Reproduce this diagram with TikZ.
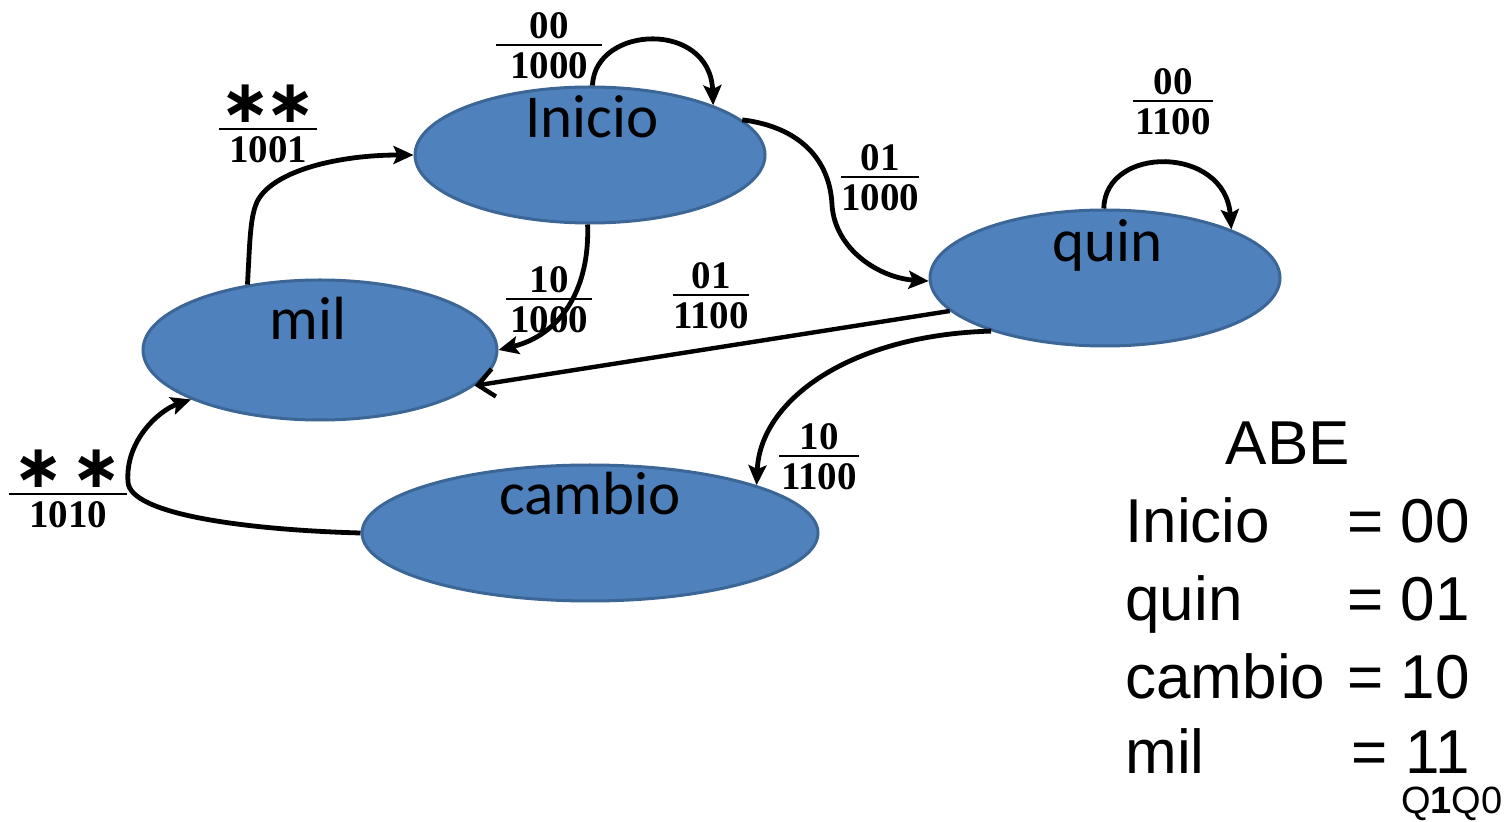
\documentclass[tikz,border=0pt]{standalone}
\usepackage{fontspec}
\setmainfont{Liberation Serif}
\newfontfamily\statefont{Carlito}
\newfontfamily\legfont{Liberation Sans}
\newfontfamily\symfont{DejaVu Sans}
\usetikzlibrary{shapes.geometric,arrows.meta}
\definecolor{stfill}{HTML}{4F81BD}
\definecolor{stdraw}{HTML}{3B6696}
\newcommand{\fr}[3][0pt]{\vbox{\offinterlineskip\halign{\hfil##\hfil\cr #2\cr\noalign{\kern2.5pt\hrule height 1pt\kern3.5pt}\hskip#1\relax #3\hskip#1\relax\cr}}}
\newcommand{\astr}[1][0pt]{{\symfont\bfseries\fontsize{30}{30}\selectfont ∗\hskip#1∗}}
\begin{document}
\begin{tikzpicture}[x=0.5pt,y=-0.5pt,
 state/.style={ellipse, fill=stfill, draw=stdraw, line width=1.5pt, inner sep=0pt},
 stext/.style={font=\statefont\fontsize{30.5}{30.5}\selectfont, anchor=base, inner sep=0pt},
 lab/.style={font=\bfseries\fontsize{19.5}{19.5}\selectfont, inner sep=0pt},
 tr/.style={line width=2.4pt, -{Stealth[length=10pt,width=9pt,inset=2pt]}},
 leg/.style={font=\legfont\fontsize{31}{31}\selectfont, inner sep=0pt}]
\useasboundingbox (0,0) rectangle (1508,822);
% states
\node[state, minimum width=175pt, minimum height=68pt] (inicio) at (590,155) {};
\node[state, minimum width=177pt, minimum height=70pt] (mil) at (320,350) {};
\node[state, minimum width=175pt, minimum height=68pt] (quin) at (1105,278) {};
\node[state, minimum width=228pt, minimum height=68pt] (cambio) at (590,533) {};
\node[stext] (tinicio) at (592,138) {Inicio};
\node[stext] (tmil) at (308,340) {mil};
\node[stext] (tquin) at (1108,262) {quin};
\node[stext] (tcambio) at (590,515) {cambio};
% transitions
\draw[tr] (inicio.88) .. controls (595,25) and (710,20) .. (inicio.22);
\draw[tr] (inicio.13) .. controls (800,127) and (830,160) .. (832,205) .. controls (835,250) and (880,278) .. (quin.181);
\draw[tr] (inicio.268) .. controls (590,290) and (560,335) .. (mil.0);
\draw[line width=2.2pt, -{Straight Barb[length=8pt,width=14pt]}] (quin.192) -- (mil.-13);
\draw[tr] (quin.205) .. controls (850,335) and (760,400) .. (cambio.16);
\draw[tr] (cambio.180) .. controls (250,530) and (130,515) .. (128,482) .. controls (125,440) and (160,410) .. (mil.201);
\draw[tr] (mil.138) .. controls (250,240) and (250,215) .. (258,200) .. controls (275,170) and (340,155) .. (inicio.180);
\draw[tr] (quin.91) .. controls (1105,145) and (1225,145) .. (quin.21);
% labels
\node[lab] (l1) at (549,46) {\fr[7pt]{00}{1000}};
\node[lab] (l2) at (268,124) {\fr[5pt]{\astr[-3pt]}{1001}};
\node[lab] (l3) at (880,178) {\fr[0pt]{01}{1000}};
\node[lab] (l4) at (1173,102) {\fr[1pt]{00}{1100}};
\node[lab] (l5) at (549,300) {\fr[2pt]{10}{1000}};
\node[lab] (l6) at (711,296) {\fr[0pt]{01}{1100}};
\node[lab] (l7) at (819,457) {\fr[1pt]{10}{1100}};
\node[lab] (l8) at (68,489) {\fr[10pt]{\astr[4pt]}{1010}};
% legend
\node[leg, anchor=base] (abe) at (1288,465) {ABE};
\node[leg, anchor=base west] (k1) at (1125,543) {Inicio};
\node[leg, anchor=base east] (v1) at (1470,543) {= 00};
\node[leg, anchor=base west] (k2) at (1125,620) {quin};
\node[leg, anchor=base east] (v2) at (1470,620) {= 01};
\node[leg, anchor=base west] (k3) at (1125,698) {cambio};
\node[leg, anchor=base east] (v3) at (1470,698) {= 10};
\node[leg, anchor=base west] (k4) at (1125,773) {mil};
\node[leg, anchor=base east] (v4) at (1470,773) {= 11};
\node[font=\legfont\fontsize{19}{19}\selectfont, anchor=base east, inner sep=0pt] (qq) at (1503,813) {Q\textbf{1}Q0};
\end{tikzpicture}
\end{document}
